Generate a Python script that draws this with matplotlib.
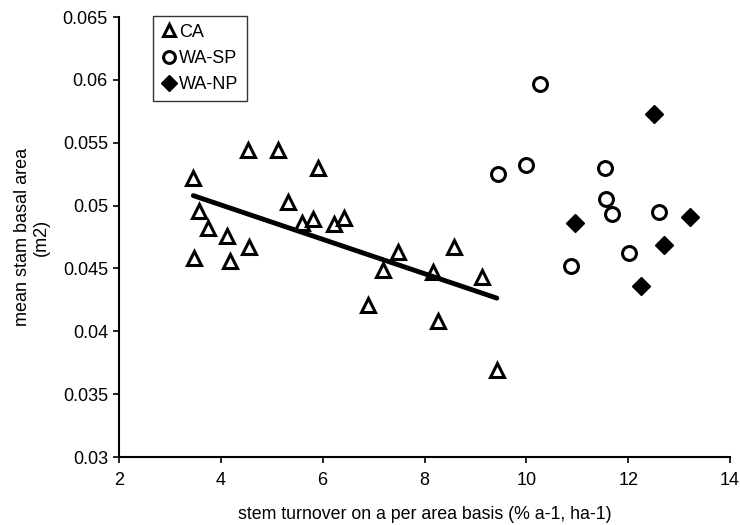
import numpy as np
import matplotlib
matplotlib.use('Agg')
import matplotlib.pyplot as plt

plt.rcParams['font.family'] = ['Liberation Sans', 'DejaVu Sans']

# CA plots (triangles)
ca_x = [3.46, 4.53, 5.12, 5.91, 3.57, 3.74, 4.13, 4.56, 3.48, 4.18, 5.31, 5.59,
        5.82, 6.23, 6.41, 7.47, 7.19, 8.58, 8.16, 9.12, 8.26, 9.42, 6.90]
ca_y = [0.0522, 0.0544, 0.0544, 0.0530, 0.0496, 0.0482, 0.0476, 0.0467, 0.0458,
        0.0456, 0.0503, 0.0486, 0.0489, 0.0485, 0.0490, 0.0463, 0.0449, 0.0467,
        0.0447, 0.0443, 0.0408, 0.0369, 0.0421]

# WA-SP plots (open circles)
wasp_x = [10.27, 9.45, 9.99, 11.56, 11.69, 12.60, 12.02, 11.54, 10.88]
wasp_y = [0.0597, 0.0525, 0.0532, 0.0505, 0.0493, 0.0495, 0.0462, 0.0530, 0.0452]

# WA-NP plots (filled diamonds)
wanp_x = [12.51, 13.21, 12.71, 12.26, 10.96]
wanp_y = [0.0573, 0.0491, 0.0469, 0.0436, 0.0486]

fig = plt.figure(figsize=(7.4, 5.25), dpi=100)
ax = fig.add_axes([0.1608, 0.1295, 0.8257, 0.8381])

ax.plot(ca_x, ca_y, linestyle='none', marker='^', markersize=10, markerfacecolor='white',
        markeredgecolor='black', markeredgewidth=2.2, label='CA')
ax.plot(wasp_x, wasp_y, linestyle='none', marker='o', markersize=10, markerfacecolor='white',
        markeredgecolor='black', markeredgewidth=2.2, label='WA-SP')
ax.plot(wanp_x, wanp_y, linestyle='none', marker='D', markersize=9.5, markerfacecolor='black',
        markeredgecolor='black', label='WA-NP')

# linear trend through the CA points
slope, icpt = np.polyfit(ca_x, ca_y, 1)
fit_x = np.array([min(ca_x), max(ca_x)])
ax.plot(fit_x, slope * fit_x + icpt, color='black', linewidth=3.5, solid_capstyle='round')

ax.set_xlim(2, 14)
ax.set_ylim(0.03, 0.065)
ax.set_xticks([2, 4, 6, 8, 10, 12, 14])
ax.set_yticks([0.03, 0.035, 0.04, 0.045, 0.05, 0.055, 0.06, 0.065])
ax.set_yticklabels(['0.03', '0.035', '0.04', '0.045', '0.05', '0.055', '0.06', '0.065'])

for s in ['top', 'right']:
    ax.spines[s].set_visible(False)
for s in ['left', 'bottom']:
    ax.spines[s].set_linewidth(1.5)
ax.tick_params(direction='out', length=4, width=1.2, labelsize=13)
ax.tick_params(axis='x', pad=7)
ax.tick_params(axis='y', pad=4)

ax.set_xlabel('stem turnover on a per area basis (% a-1, ha-1)', fontsize=12.8, labelpad=12)
ax.set_ylabel('mean stam basal area\n(m2)', fontsize=13, labelpad=9)

leg = ax.legend(loc='upper left', bbox_to_anchor=(0.0556, 1.003), borderaxespad=0,
                fontsize=13, frameon=True, fancybox=False, edgecolor='black',
                handletextpad=0.1, handlelength=0.9, borderpad=0.45, labelspacing=0.5,
                markerscale=0.85)
leg.get_frame().set_linewidth(1.0)

plt.savefig('out.png', dpi=100)
plt.close()
